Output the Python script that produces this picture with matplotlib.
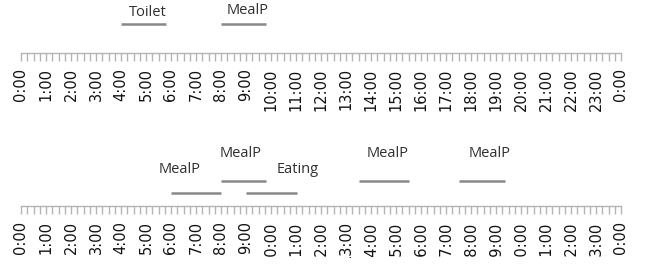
import matplotlib
matplotlib.use('Agg')
import matplotlib.pyplot as plt
from matplotlib.ticker import MultipleLocator, FixedLocator
from matplotlib.patches import Rectangle

# activity timelines (hours of day)
top_names = ['Toilet', 'MealP']
top_start = [4.0, 8.0]
top_end = [5.8, 9.8]
top_level = [1, 1]
top_label_x = [5.08, 9.08]
top_label_y = [1.40, 1.45]

bot_names = ['MealP', 'MealP', 'Eating', 'MealP', 'MealP']
bot_start = [6.0, 8.0, 9.0, 13.5, 17.5]
bot_end = [8.0, 9.8, 11.05, 15.5, 19.35]
bot_level = [1, 2, 1, 2, 2]
bot_label_x = [6.36, 8.8, 11.05, 14.68, 18.76]
bot_label_y = [2.9, 4.25, 2.9, 4.25, 4.25]

hour_labels = ['%d:00' % (h % 24) for h in range(25)]

W, H = 651, 265
fig = plt.figure(figsize=(W / 100, H / 100), dpi=100)

line_col = '#888888'
tick_col = '#b4b4b4'
txt_col = '#303030'


def make_axis(rect, ylim):
    ax = fig.add_axes(rect)
    ax.set_xlim(0, 24)
    ax.set_ylim(*ylim)
    for s in ['top', 'left', 'right']:
        ax.spines[s].set_visible(False)
    ax.spines['bottom'].set_color(tick_col)
    ax.spines['bottom'].set_linewidth(1)
    ax.set_yticks([])
    ax.xaxis.set_major_locator(FixedLocator(range(25)))
    ax.xaxis.set_minor_locator(MultipleLocator(0.25))
    ax.set_xticklabels(hour_labels, rotation=90, fontsize=10.5,
                       family='DejaVu Sans', color='#111111', va='top')
    ax.tick_params(axis='x', which='both', length=6, width=1,
                   color=tick_col, pad=5)
    ax.patch.set_alpha(0)
    return ax


left = 21 / W
width = 600 / W

# top panel: spine at y=53 px, level 1 at 29 px above
ax1 = make_axis([left, 1 - 53 / H, width, 53 / H], (0, 53 / 29))
for s, e, lv in zip(top_start, top_end, top_level):
    ax1.plot([s, e], [lv, lv], color=line_col, lw=1.8, solid_capstyle='butt')
for n, x, y in zip(top_names, top_label_x, top_label_y):
    ax1.text(x, y, n, ha='center', va='center', fontsize=10.5,
             family='Open Sans', color=txt_col)

# bottom panel: spine at y=206 px, levels 12 px apart
ax2 = make_axis([left, 1 - 206 / H, width, 66 / H], (-0.108, -0.108 + 66 / 12))
for s, e, lv in zip(bot_start, bot_end, bot_level):
    ax2.plot([s, e], [lv, lv], color=line_col, lw=1.8, solid_capstyle='butt')
for n, x, y in zip(bot_names, bot_label_x, bot_label_y):
    ax2.text(x, y, n, ha='center', va='center', fontsize=10.5,
             family='Open Sans', color=txt_col)

# the original is cut off a few pixels above the bottom edge
fig.patches.append(Rectangle((0, 0), 1, 7 / H, transform=fig.transFigure,
                             facecolor='white', edgecolor='none', zorder=10))

fig.savefig('out.png', dpi=100)
